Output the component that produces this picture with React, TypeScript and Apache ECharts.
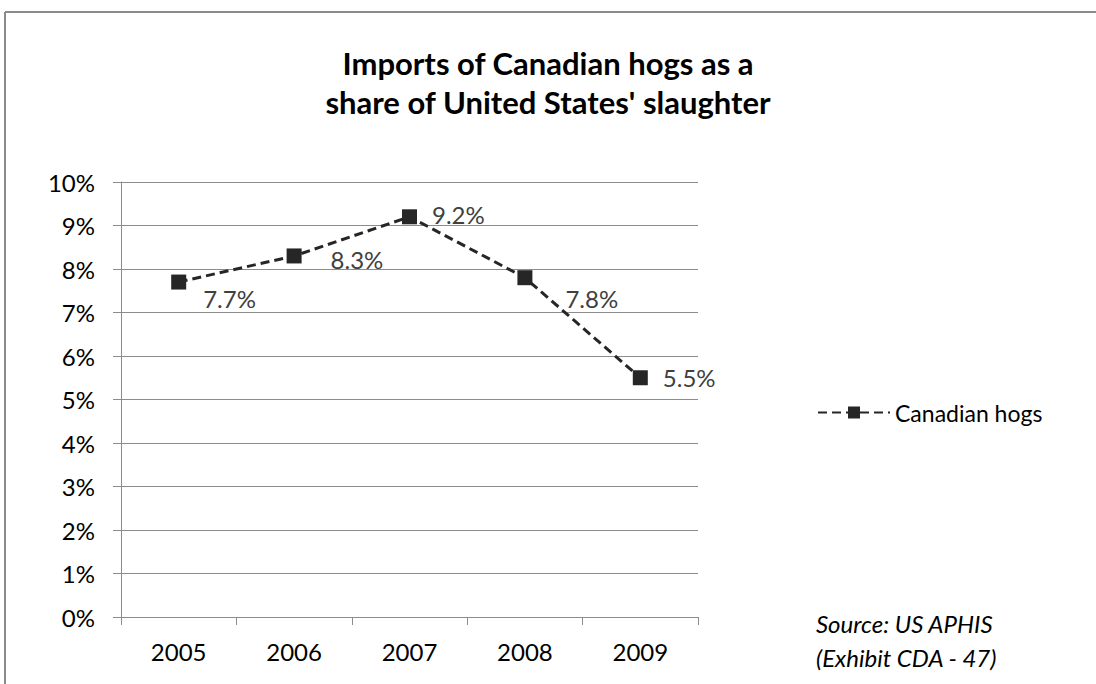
import React, { useEffect, useRef } from "react";
import * as echarts from "echarts";

const categories = ["2005", "2006", "2007", "2008", "2009"];
const values = [7.7, 8.3, 9.2, 7.8, 5.5];
const labelOffsets: [number, number][] = [
  [2, 16],
  [14, 4],
  [0, -2],
  [18, 21],
  [0, 0],
];
const seriesName = "Canadian hogs";
const titleText = "Imports of Canadian hogs as a\nshare of United States' slaughter";
const sourceText = "Source: US APHIS\n(Exhibit CDA - 47)";

const FONT = "Lato, 'Noto Sans', sans-serif";
const FS = 24;

export default function App() {
  const ref = useRef<HTMLDivElement>(null);
  useEffect(() => {
    if (!ref.current) return;
    const chart = echarts.init(ref.current, undefined, { renderer: "svg" });
    chart.setOption({
      animation: false,
      backgroundColor: "#ffffff",
      textStyle: { fontFamily: FONT },
      title: {
        text: titleText,
        left: "center",
        top: 38,
        textStyle: {
          fontFamily: FONT,
          fontSize: 31,
          fontWeight: "bold",
          color: "#000000",
          lineHeight: 39,
        },
      },
      grid: { left: 121, top: 182, right: 398, bottom: 67 },
      legend: {
        left: 812,
        top: 396,
        itemWidth: 72,
        itemHeight: 15,
        textStyle: { fontFamily: FONT, fontSize: 23, color: "#000000" },
        data: [{ name: seriesName }],
      },
      xAxis: {
        type: "category",
        data: categories,
        boundaryGap: true,
        axisLine: { lineStyle: { color: "#8c8c8c", width: 1 } },
        axisTick: { show: true, length: 8, lineStyle: { color: "#8c8c8c" } },
        axisLabel: { margin: 22, fontSize: FS, color: "#000000", fontFamily: FONT },
        splitLine: { show: false },
      },
      yAxis: {
        type: "value",
        min: 0,
        max: 10,
        interval: 1,
        axisLine: { show: true, lineStyle: { color: "#8c8c8c", width: 1 } },
        axisTick: { show: true, length: 8, lineStyle: { color: "#8c8c8c" } },
        axisLabel: {
          margin: 26,
          fontSize: FS,
          color: "#000000",
          fontFamily: FONT,
          formatter: (v: number) => `${v}%`,
        },
        splitLine: { show: true, lineStyle: { color: "#8c8c8c", width: 1 } },
      },
      series: [
        {
          name: seriesName,
          type: "line",
          data: values.map((v, i) => ({
            value: v,
            label: { offset: labelOffsets[i] },
          })),
          symbol: "rect",
          symbolSize: 15,
          itemStyle: { color: "#262626" },
          lineStyle: { color: "#262626", width: 3, type: [9, 5] },
          label: {
            show: true,
            position: "right",
            distance: 15,
            fontSize: FS,
            color: "#404040",
            fontFamily: FONT,
            formatter: (p: any) => `${p.value.toFixed(1)}%`,
          },
        },
      ],
      graphic: [
        {
          type: "rect",
          shape: { x: 1080, y: 14, width: 16, height: 670 },
          style: { fill: "#ffffff", stroke: "none" },
          silent: true,
        },
        {
          type: "line",
          shape: { x1: 5, y1: 12, x2: 5, y2: 684 },
          style: { stroke: "#8a8a8a", lineWidth: 2 },
          silent: true,
        },
        {
          type: "line",
          shape: { x1: 5, y1: 12, x2: 1096, y2: 12 },
          style: { stroke: "#8a8a8a", lineWidth: 2 },
          silent: true,
        },
        {
          type: "text",
          left: 816,
          top: 606,
          style: {
            text: sourceText,
            font: `italic ${FS}px ${FONT}`,
            fill: "#000000",
            lineHeight: 34,
          },
        },
      ],
    });
    return () => chart.dispose();
  }, []);
  return (
    <div
      ref={ref}
      style={{ position: "fixed", left: 0, top: 0, width: 1096, height: 684 }}
    />
  );
}
